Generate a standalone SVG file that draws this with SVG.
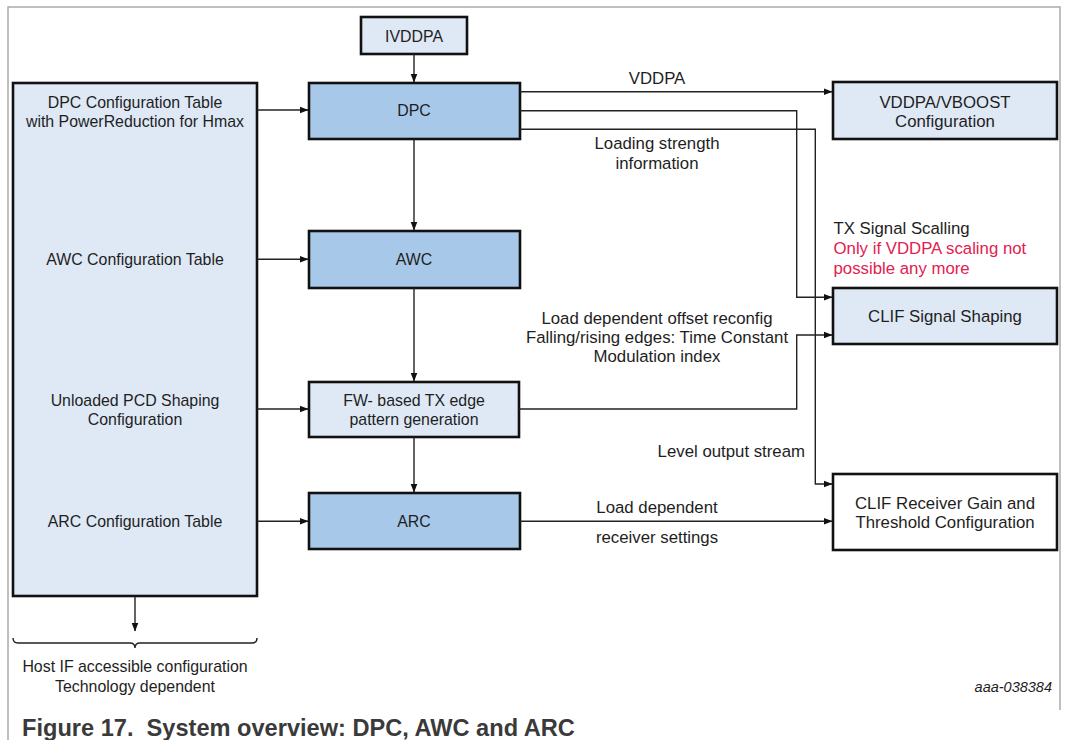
<svg xmlns="http://www.w3.org/2000/svg" width="1066" height="740" viewBox="0 0 1066 740">
<style>
text{font-family:"Liberation Sans",Arial,sans-serif;font-size:15.9px;fill:#1e1e1e}
.c{text-anchor:middle}
.b{font-size:16.8px}
.lt{fill:#dfe9f6;stroke:#111;stroke-width:2.6}
.dk{fill:#a8c8ea;stroke:#111;stroke-width:2.6}
.wh{fill:#fff;stroke:#111;stroke-width:2.6}
.ln{fill:none;stroke:#222;stroke-width:1.4}
.red{fill:#e3204f}
</style>
<defs>
<marker id="ah" markerWidth="9" markerHeight="8" refX="8.5" refY="4" orient="auto" markerUnits="userSpaceOnUse">
<path d="M0,0.5 L9,4 L0,7.5 Z" fill="#111"/>
</marker>
</defs>
<rect width="1066" height="740" fill="#fff"/>
<path d="M8,740 V7 H1060 V710" fill="none" stroke="#aaa" stroke-width="1.5"/>
<g id="config-table">
<rect class="lt" x="13" y="83" width="244" height="513"/>
<text class="c" x="135" y="107.7">DPC Configuration Table</text>
<text class="c" x="135" y="126.7">with PowerReduction for Hmax</text>
<text class="c" x="135" y="265">AWC Configuration Table</text>
<text class="c" x="135" y="405.7">Unloaded PCD Shaping</text>
<text class="c" x="135" y="425">Configuration</text>
<text class="c" x="135" y="527">ARC Configuration Table</text>
</g>
<g id="ivddpa"><rect class="lt" x="361" y="17" width="106" height="37"/><text class="c" x="414" y="41.7">IVDDPA</text></g>
<g id="dpc"><rect class="dk" x="309" y="83" width="211" height="56"/><text class="c" x="414" y="115.7">DPC</text></g>
<g id="awc"><rect class="dk" x="309" y="231" width="211" height="57"/><text class="c" x="414" y="265">AWC</text></g>
<g id="fw"><rect class="lt" x="309" y="382" width="210" height="55"/><text class="c" x="414" y="405.7">FW- based TX edge</text><text class="c" x="414" y="425">pattern generation</text></g>
<g id="arc"><rect class="dk" x="309" y="493" width="211" height="56"/><text class="c" x="414" y="527">ARC</text></g>
<g id="vboost"><rect class="lt" x="833" y="82" width="224" height="57"/><text class="c b" x="945" y="107.7">VDDPA/VBOOST</text><text class="c b" x="945" y="126.7">Configuration</text></g>
<g id="clif-shaping"><rect class="lt" x="833" y="288" width="224" height="56"/><text class="c b" x="945" y="321.7">CLIF Signal Shaping</text></g>
<g id="clif-receiver"><rect class="wh" x="833" y="474" width="224" height="76"/><text class="c b" x="945" y="508.7">CLIF Receiver Gain and</text><text class="c b" x="945" y="528.3">Threshold Configuration</text></g>
<g id="connectors">
<path class="ln" d="M414,54 V82" marker-end="url(#ah)"/>
<path class="ln" d="M257,110 H308" marker-end="url(#ah)"/>
<path class="ln" d="M414,139 V230" marker-end="url(#ah)"/>
<path class="ln" d="M257,259.3 H308" marker-end="url(#ah)"/>
<path class="ln" d="M414,288 V381" marker-end="url(#ah)"/>
<path class="ln" d="M257,409 H308" marker-end="url(#ah)"/>
<path class="ln" d="M414,437 V492" marker-end="url(#ah)"/>
<path class="ln" d="M257,521.3 H308" marker-end="url(#ah)"/>
<path class="ln" d="M135,596 V631" marker-end="url(#ah)"/>
<path class="ln" d="M13,638 Q13,643 18,643 H130 Q135,643 135,648 Q135,643 140,643 H252 Q257,643 257,638"/>
<path class="ln" d="M520,91.7 H832" marker-end="url(#ah)"/>
<path class="ln" d="M520,110.7 H796.7 V297.3 H832" marker-end="url(#ah)"/>
<path class="ln" d="M520,129.3 H815.3 V484 H832" marker-end="url(#ah)"/>
<path class="ln" d="M519,409 H796.7 V335 H832" marker-end="url(#ah)"/>
<path class="ln" d="M520,521.3 H832" marker-end="url(#ah)"/>
</g>
<g id="labels">
<text class="c b" x="657" y="84">VDDPA</text>
<text class="c b" x="657" y="149">Loading strength</text>
<text class="c b" x="657" y="169">information</text>
<text class="b" x="833.5" y="234">TX Signal Scalling</text>
<text class="b red" x="833.5" y="253.5">Only if VDDPA scaling not</text>
<text class="b red" x="833.5" y="273.5">possible any more</text>
<text class="c b" x="657" y="323.5">Load dependent offset reconfig</text>
<text class="c b" x="657" y="343">Falling/rising edges: Time Constant</text>
<text class="c b" x="657" y="362">Modulation index</text>
<text class="b" x="805" y="456.5" text-anchor="end">Level output stream</text>
<text class="c b" x="657" y="513">Load dependent</text>
<text class="c b" x="657" y="542.5">receiver settings</text>
<text class="c" x="135" y="671.7">Host IF accessible configuration</text>
<text class="c" x="135" y="691.7">Technology dependent</text>
<text x="1052" y="691.5" text-anchor="end" style="font-size:14.5px;font-style:italic">aaa-038384</text>
<text x="22" y="736" xml:space="preserve" style="font-size:23.6px;font-weight:bold;fill:#3a3a3a">Figure 17.  System overview: DPC, AWC and ARC</text>
</g>
</svg>
